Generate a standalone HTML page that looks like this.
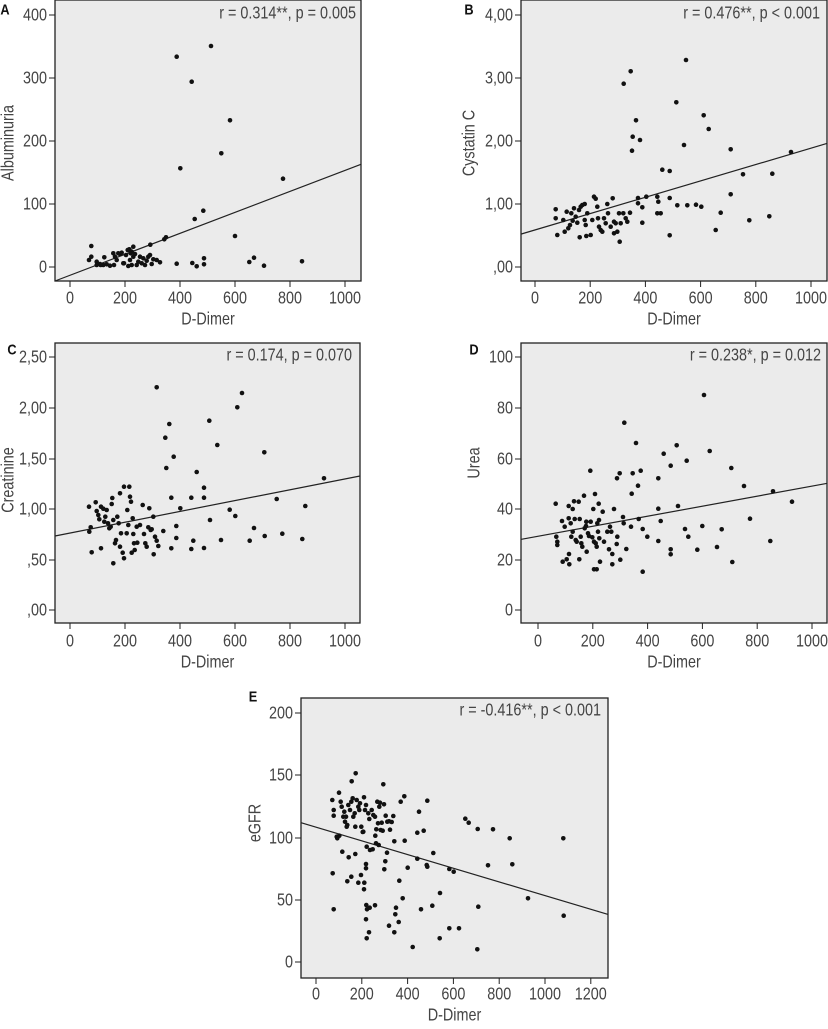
<!DOCTYPE html>
<html><head><meta charset="utf-8">
<style>
html,body{margin:0;padding:0;background:#fff;}
svg text{font-family:"Liberation Sans",sans-serif;fill:#444;}
</style></head>
<body>
<svg id="s" width="828" height="1024" viewBox="0 0 828 1024" xmlns="http://www.w3.org/2000/svg"></svg>
<script>
const P=[
{ox:0,oy:0,box:[55,0,361,281],line:[165,843,1083,493],
 yt:[["400",15],["300",78],["200",141],["100",204],["0",267]],
 xt:[0,200,400,600,800,1000].map((v,i)=>[v+"",70+55*i]),xly:298,xll:319,
 yl:"Albuminuria",ylx:8,yly:143,L:"A",Lx:5,Ly:9,r:"r = 0.314**, p = 0.005",rx:356,ry:13,
 pts:[[530,170],[633,138],[575,245],[690,361],[664,460],[541,505],[849,536],[610,632],[584,657],[705,708],[498,712],[493,718],[451,734],[274,738],[530,791],[577,789],[590,799],[612,793],[612,775],[748,786],[762,773],[792,797],[906,784],[267,780],[274,770],[290,785],[300,792],[310,795],[320,793],[330,797],[313,772],[340,760],[345,770],[350,780],[360,762],[370,790],[378,765],[385,798],[390,780],[395,795],[400,770],[410,795],[388,748],[395,755],[400,740],[415,785],[425,790],[430,775],[435,795],[440,782],[445,770],[450,765],[460,778],[470,780],[480,787],[342,795],[302,795],[290,795],[420,770],[355,760],[365,758],[372,790],[383,750],[392,760],[405,762],[455,792]]},
{ox:414,oy:0,box:[521,0,827,281],line:[322,702,1240,430],
 yt:[["4,00",15],["3,00",78],["2,00",141],["1,00",204],[",00",267]],
 xt:[0,200,400,600,800,1000].map((v,i)=>[v+"",535+55.2*i]),xly:298,xll:319,
 yl:"Cystatin C",ylx:469,yly:143,L:"B",Lx:469,Ly:9,r:"r = 0.476**, p < 0.001",rx:820,ry:13,
 pts:[[816,180],[650,214],[629,251],[787,307],[666,361],[869,346],[884,387],[656,410],[678,420],[654,452],[810,435],[950,448],[745,509],[767,513],[987,523],[1075,521],[1131,456],[950,583],[767,594],[672,594],[697,590],[730,590],[733,605],[730,640],[740,640],[790,616],[820,616],[846,614],[862,620],[920,638],[1006,661],[1066,649],[905,690],[767,706],[617,725],[685,668],[685,622],[672,610],[425,628],[425,655],[430,705],[448,660],[452,695],[458,635],[463,685],[468,675],[472,640],[476,662],[480,625],[485,650],[490,668],[495,630],[497,712],[500,620],[505,615],[512,612],[512,660],[515,675],[517,708],[520,640],[530,705],[535,660],[540,590],[545,596],[550,620],[552,655],[555,680],[560,690],[565,695],[570,655],[575,670],[580,612],[582,640],[590,680],[596,595],[600,665],[605,670],[610,695],[615,640],[620,670],[628,640],[635,655],[648,638],[640,665],[600,700]]},
{ox:0,oy:330,box:[55,343,360,623],line:[165,618,1080,438],
 yt:[["2,50",357],["2,00",408],["1,50",459],["1,00",509],[",50",560],[",00",610]],
 xt:[0,200,400,600,800,1000].map((v,i)=>[v+"",70+55*i]),xly:641,xll:662,
 yl:"Creatinine",ylx:8,yly:480,L:"C",Lx:12,Ly:349,r:"r = 0.174, p = 0.070",rx:352,ry:355,
 pts:[[470,172],[726,189],[712,232],[628,272],[508,282],[496,323],[652,345],[793,367],[521,380],[499,414],[590,426],[972,445],[612,473],[612,503],[574,503],[514,503],[541,535],[689,539],[706,558],[916,528],[830,507],[630,570],[762,594],[529,588],[490,603],[529,624],[514,655],[580,632],[663,630],[749,632],[794,618],[847,611],[907,627],[574,657],[612,654],[461,673],[340,700],[372,685],[275,667],[303,655],[267,530],[268,605],[272,592],[287,517],[290,543],[295,555],[298,568],[303,530],[310,536],[313,575],[316,560],[320,540],[324,580],[328,595],[332,590],[335,522],[337,504],[340,570],[345,640],[348,630],[352,560],[356,580],[360,490],[363,610],[368,668],[372,470],[380,610],[382,540],[385,585],[388,470],[390,500],[393,515],[398,565],[400,612],[402,640],[404,660],[410,590],[412,638],[420,585],[428,525],[432,612],[436,640],[440,650],[445,592],[448,535],[452,600],[460,560],[465,620],[470,632],[475,648],[455,598],[360,650],[395,668]]},
{ox:414,oy:330,box:[521,343,827,623],line:[322,628,1240,460],
 yt:[["100",357],["80",408],["60",459],["40",509],["20",560],["0",610]],
 xt:[0,200,400,600,800,1000].map((v,i)=>[v+"",538+54.8*i]),xly:641,xll:662,
 yl:"Urea",ylx:474,yly:463,L:"D",Lx:474,Ly:349,r:"r = 0.238*, p = 0.012",rx:821,ry:355,
 pts:[[870,195],[631,278],[666,339],[788,346],[749,371],[887,363],[818,392],[770,407],[952,414],[990,468],[529,422],[617,430],[656,430],[680,422],[609,445],[672,467],[653,491],[733,445],[733,536],[792,528],[740,573],[1077,484],[1134,515],[1008,566],[865,588],[813,597],[823,620],[923,598],[700,620],[686,597],[733,633],[770,658],[770,673],[850,659],[909,651],[955,696],[1069,633],[686,725],[637,657],[619,689],[629,580],[627,561],[674,567],[651,590],[425,521],[427,620],[430,635],[430,645],[444,573],[446,695],[452,590],[458,688],[464,528],[464,565],[465,672],[466,703],[470,580],[472,620],[476,537],[476,605],[480,514],[482,567],[485,630],[488,635],[494,515],[497,567],[496,688],[500,620],[502,640],[505,650],[510,497],[512,595],[516,588],[517,575],[518,665],[522,610],[525,618],[530,575],[535,622],[538,537],[540,635],[540,718],[543,492],[545,640],[548,650],[548,718],[550,580],[552,605],[554,521],[555,570],[556,625],[558,695],[566,545],[570,635],[580,605],[585,658],[588,590],[592,605],[595,672],[595,703],[600,537],[608,642],[610,620]]},
{ox:240,oy:670,box:[301,698,608,978],line:[183,458,1103,733],
 yt:[["200",713],["150",775],["100",838],["50",900],["0",962]],
 xt:[0,200,400,600,800,1000,1200].map((v,i)=>[v+"",316+45.8*i]),xly:994,xll:1015,
 yl:"eGFR",ylx:255,yly:823,L:"E",Lx:253,Ly:696,r:"r = -0.416**, p < 0.001",rx:601,ry:710,
 pts:[[347,310],[335,334],[430,343],[297,368],[493,379],[482,395],[562,392],[537,425],[676,446],[686,458],[713,477],[759,478],[809,505],[970,505],[532,488],[551,482],[580,549],[532,566],[560,585],[562,590],[503,593],[628,597],[641,605],[744,586],[817,583],[864,685],[971,737],[715,710],[600,669],[577,707],[543,718],[478,632],[488,685],[468,713],[466,733],[476,756],[463,787],[447,767],[599,805],[518,831],[628,775],[657,775],[712,838],[436,574],[433,598],[355,638],[363,615],[334,620],[322,634],[372,658],[373,638],[378,582],[378,595],[346,552],[326,562],[278,610],[281,718],[379,705],[381,718],[389,713],[378,748],[387,787],[380,805],[405,706],[441,548],[463,514],[494,512],[277,390],[281,420],[281,437],[290,500],[292,505],[298,497],[302,395],[305,410],[307,545],[310,440],[313,425],[315,455],[318,440],[320,470],[322,465],[325,405],[330,420],[334,395],[338,385],[340,440],[344,430],[346,470],[350,390],[355,410],[358,420],[360,400],[364,470],[368,486],[370,485],[372,382],[375,420],[378,405],[380,530],[385,430],[388,447],[390,540],[395,420],[398,538],[400,435],[405,440],[409,478],[412,395],[414,460],[416,525],[418,410],[420,398],[422,480],[425,458],[428,482],[432,403],[437,437],[442,455],[447,454],[450,479],[455,456],[460,438],[408,520],[406,497]]}
];
const SX=0.8;
function T(x,y,s,anchor,size,rot,extra){
 const r=rot?` rotate(-90)`:"";
 return `<text transform="translate(${x},${y})${r} scale(${SX},1)" font-size="${size}" text-anchor="${anchor}" dominant-baseline="central"${extra||""}>${s}</text>`;
}
let h="";
for(const p of P){
 const [l,t,r,b]=p.box;
 h+=`<rect x="${l}" y="${t}" width="${r-l}" height="${b-t}" fill="#ebebeb" stroke="#222" stroke-width="1.3"/>`;
 for(const [s,y] of p.yt){h+=`<line x1="${l-6}" y1="${y}" x2="${l}" y2="${y}" stroke="#222" stroke-width="1"/>`+T(l-8,y,s,"end",18);}
 for(const [s,x] of p.xt){h+=`<line x1="${x}" y1="${b}" x2="${x}" y2="${b+6}" stroke="#222" stroke-width="1"/>`+T(x,p.xly,s,"middle",18);}
 h+=T((l+r)/2,p.xll,"D-Dimer","middle",18);
 h+=T(p.ylx,p.yly,p.yl,"middle",18,true);
 h+=`<text transform="translate(${p.Lx},${p.Ly}) scale(0.85,1)" font-size="15" font-weight="bold" text-anchor="middle" dominant-baseline="central" style="fill:#111">${p.L}</text>`;
 h+=T(p.rx,p.ry,p.r,"end",18);
 const Ln=p.line;
 h+=`<line x1="${p.ox+Ln[0]/3}" y1="${p.oy+Ln[1]/3}" x2="${p.ox+Ln[2]/3}" y2="${p.oy+Ln[3]/3}" stroke="#222" stroke-width="1.2"/>`;
 for(const [x,y] of p.pts){h+=`<circle cx="${(p.ox+x/3).toFixed(1)}" cy="${(p.oy+y/3).toFixed(1)}" r="2.3" fill="#111"/>`;}
}
document.getElementById("s").innerHTML=h;
</script>
</body></html>
